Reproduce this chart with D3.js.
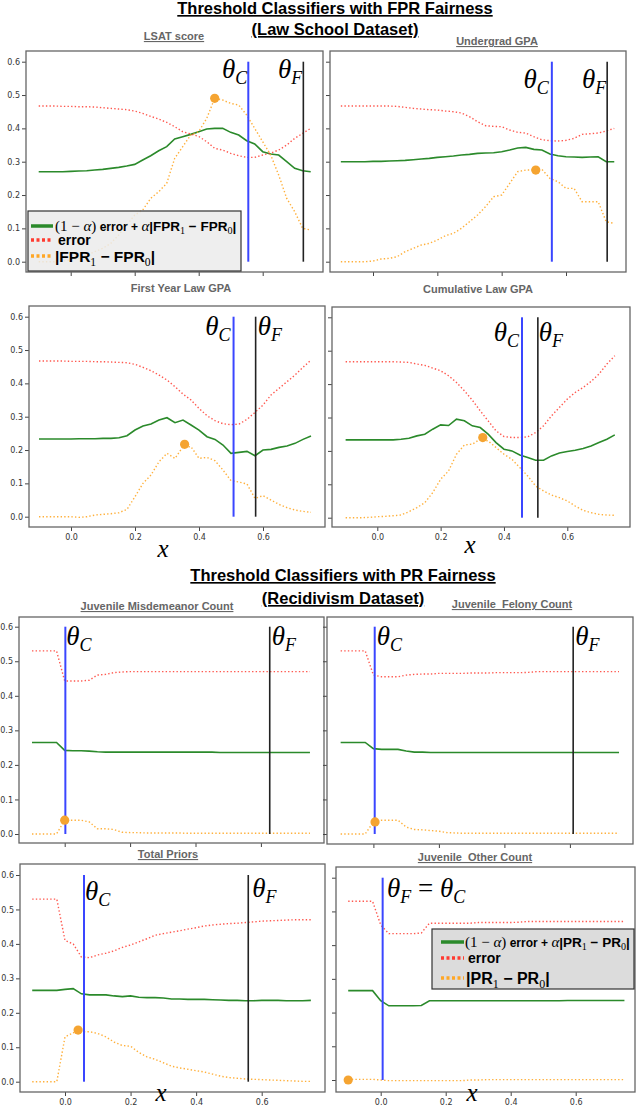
<!DOCTYPE html>
<html>
<head>
<meta charset="utf-8">
<script src="https://cdn.jsdelivr.net/npm/d3@7"></script>
<style>
  html, body { margin: 0; padding: 0; background: #fff; }
  svg { display: block; }
  text { white-space: pre; }
  .tick text { font-family: "DejaVu Sans", sans-serif; font-size: 8px; fill: #333; }
  .tick line { stroke: #444; }
</style>
</head>
<body>
<svg id="chart" width="640" height="1109"></svg>
<script>
'use strict'

// threshold grid shared by every panel
const thresholds = [
  -0.1, -0.075, -0.05, -0.025, 0.0,
  0.025, 0.05, 0.075, 0.1, 0.125,
  0.15, 0.175, 0.2, 0.225, 0.25,
  0.275, 0.3, 0.325, 0.35, 0.375,
  0.4, 0.425, 0.45, 0.475, 0.5,
  0.525, 0.55, 0.575, 0.6, 0.625,
  0.65, 0.675, 0.7, 0.725, 0.75
]

const yTickValues = [0.0, 0.1, 0.2, 0.3, 0.4, 0.5, 0.6]
const xTickValues = [0.0, 0.2, 0.4, 0.6]

const panelTitles = [
  'LSAT score', 'Undergrad GPA', 'First Year Law GPA', 'Cumulative Law GPA',
  'Juvenile Misdemeanor Count', 'Juvenile  Felony Count', 'Total Priors', 'Juvenile  Other Count'
]

// --- Law school, FPR fairness ---
const lsatObjective = [
  0.270, 0.270, 0.270, 0.270, 0.271, 0.272, 0.273, 0.275, 0.277, 0.280,
  0.283, 0.287, 0.292, 0.305, 0.318, 0.333, 0.345, 0.368, 0.375, 0.382,
  0.390, 0.398, 0.400, 0.400, 0.388, 0.380, 0.363, 0.353, 0.330, 0.323,
  0.320, 0.300, 0.280, 0.273, 0.270
]
const lsatError = [
  0.467, 0.467, 0.467, 0.466, 0.466, 0.465, 0.465, 0.464, 0.462, 0.460,
  0.458, 0.456, 0.452, 0.445, 0.436, 0.428, 0.418, 0.405, 0.390, 0.383,
  0.376, 0.360, 0.340, 0.335, 0.325, 0.318, 0.313, 0.313, 0.320, 0.326,
  0.335, 0.350, 0.370, 0.385, 0.400
]
const lsatGap = [
  0.000, 0.000, 0.000, 0.002, 0.005, 0.010, 0.020, 0.030, 0.040, 0.055,
  0.080, 0.110, 0.140, 0.155, 0.190, 0.210, 0.235, 0.310, 0.345, 0.380,
  0.390, 0.430, 0.490, 0.485, 0.475, 0.470, 0.440, 0.400, 0.360, 0.320,
  0.260, 0.190, 0.150, 0.100, 0.095
]

const ugpaObjective = [
  0.300, 0.300, 0.300, 0.300, 0.301, 0.301, 0.302, 0.303, 0.304, 0.306,
  0.308, 0.310, 0.313, 0.315, 0.317, 0.320, 0.322, 0.325, 0.326, 0.327,
  0.330, 0.335, 0.341, 0.343, 0.337, 0.335, 0.323, 0.318, 0.315, 0.314,
  0.313, 0.314, 0.315, 0.300, 0.300
]
const ugpaError = [
  0.467, 0.467, 0.467, 0.467, 0.467, 0.467, 0.467, 0.466, 0.463, 0.460,
  0.458, 0.456, 0.455, 0.452, 0.450, 0.446, 0.435, 0.420, 0.408, 0.406,
  0.405, 0.395, 0.388, 0.386, 0.375, 0.366, 0.363, 0.362, 0.364, 0.370,
  0.382, 0.384, 0.386, 0.392, 0.400
]
const ugpaGap = [
  0.000, 0.000, 0.000, 0.000, 0.002, 0.008, 0.010, 0.015, 0.030, 0.040,
  0.050, 0.055, 0.065, 0.078, 0.085, 0.100, 0.120, 0.140, 0.165, 0.195,
  0.200, 0.235, 0.270, 0.275, 0.275, 0.277, 0.250, 0.240, 0.220, 0.220,
  0.180, 0.180, 0.180, 0.120, 0.115
]

const fyaObjective = [
  0.233, 0.233, 0.233, 0.233, 0.233, 0.234, 0.234, 0.234, 0.235, 0.235,
  0.237, 0.243, 0.260, 0.272, 0.278, 0.290, 0.297, 0.282, 0.290, 0.275,
  0.260, 0.240, 0.232, 0.215, 0.190, 0.193, 0.196, 0.183, 0.200, 0.202,
  0.208, 0.212, 0.220, 0.232, 0.242
]
const fyaError = [
  0.467, 0.467, 0.467, 0.467, 0.466, 0.466, 0.466, 0.465, 0.465, 0.464,
  0.463, 0.462, 0.457, 0.448, 0.438, 0.425, 0.410, 0.390, 0.368, 0.350,
  0.325, 0.303, 0.288, 0.279, 0.276, 0.278, 0.292, 0.313, 0.335, 0.365,
  0.385, 0.405, 0.425, 0.448, 0.470
]
const fyaGap = [
  0.000, 0.000, 0.000, 0.000, 0.000, -0.002, 0.000, 0.005, 0.007, 0.009,
  0.012, 0.022, 0.060, 0.100, 0.125, 0.165, 0.190, 0.175, 0.210, 0.210,
  0.175, 0.178, 0.168, 0.140, 0.108, 0.104, 0.098, 0.055, 0.063, 0.050,
  0.037, 0.027, 0.020, 0.016, 0.013
]

const cumObjective = [
  0.233, 0.233, 0.233, 0.233, 0.233, 0.233, 0.233, 0.235, 0.238, 0.245,
  0.250, 0.265, 0.278, 0.276, 0.295, 0.290, 0.275, 0.270, 0.250, 0.225,
  0.205, 0.200, 0.188, 0.180, 0.172, 0.172, 0.185, 0.194, 0.198, 0.202,
  0.207, 0.215, 0.225, 0.235, 0.248
]
const cumError = [
  0.467, 0.467, 0.467, 0.467, 0.467, 0.467, 0.467, 0.466, 0.465, 0.460,
  0.456, 0.448, 0.440, 0.425, 0.405, 0.380, 0.352, 0.320, 0.290, 0.260,
  0.243, 0.240, 0.240, 0.242, 0.255, 0.275, 0.305, 0.330, 0.355, 0.375,
  0.390, 0.408, 0.430, 0.460, 0.485
]
const cumGap = [
  0.000, 0.000, 0.000, 0.001, 0.003, 0.004, 0.006, 0.008, 0.018, 0.030,
  0.045, 0.075, 0.115, 0.140, 0.190, 0.218, 0.220, 0.235, 0.230, 0.210,
  0.190, 0.175, 0.150, 0.125, 0.095, 0.080, 0.068, 0.060, 0.050, 0.035,
  0.022, 0.015, 0.010, 0.008, 0.007
]

// --- Recidivism, PR fairness ---
const misdObjective = [
  0.265, 0.265, 0.265, 0.265, 0.242, 0.241, 0.241, 0.240, 0.238, 0.237,
  0.237, 0.237, 0.237, 0.237, 0.237, 0.237, 0.237, 0.237, 0.237, 0.237,
  0.237, 0.237, 0.237, 0.236, 0.236, 0.236, 0.236, 0.236, 0.236, 0.236,
  0.236, 0.236, 0.236, 0.236, 0.236
]
const misdError = [
  0.530, 0.530, 0.530, 0.530, 0.443, 0.443, 0.443, 0.445, 0.460, 0.462,
  0.467, 0.469, 0.470, 0.470, 0.470, 0.470, 0.470, 0.470, 0.470, 0.470,
  0.470, 0.470, 0.470, 0.470, 0.470, 0.470, 0.470, 0.470, 0.470, 0.470,
  0.470, 0.470, 0.470, 0.470, 0.470
]
const misdGap = [
  0.000, 0.000, 0.000, 0.000, 0.040, 0.040, 0.040, 0.035, 0.015, 0.015,
  0.013, 0.005, 0.004, 0.004, 0.003, 0.003, 0.003, 0.003, 0.003, 0.002,
  0.002, 0.002, 0.002, 0.002, 0.002, 0.002, 0.002, 0.002, 0.002, 0.002,
  0.002, 0.002, 0.002, 0.002, 0.002
]

const felonyObjective = [
  0.265, 0.265, 0.265, 0.265, 0.247, 0.245, 0.245, 0.245, 0.240, 0.237,
  0.237, 0.236, 0.236, 0.236, 0.236, 0.236, 0.236, 0.236, 0.236, 0.236,
  0.236, 0.236, 0.236, 0.236, 0.236, 0.236, 0.236, 0.236, 0.236, 0.236,
  0.236, 0.236, 0.236, 0.236, 0.236
]
const felonyError = [
  0.530, 0.530, 0.530, 0.530, 0.460, 0.455, 0.455, 0.455, 0.460, 0.462,
  0.463, 0.463, 0.465, 0.465, 0.465, 0.465, 0.466, 0.466, 0.466, 0.467,
  0.467, 0.467, 0.467, 0.468, 0.470, 0.470, 0.470, 0.470, 0.470, 0.470,
  0.470, 0.470, 0.470, 0.470, 0.470
]
const felonyGap = [
  0.000, 0.000, 0.000, 0.000, 0.035, 0.040, 0.040, 0.040, 0.020, 0.013,
  0.012, 0.010, 0.008, 0.004, 0.003, 0.002, 0.002, 0.002, 0.002, 0.002,
  0.002, 0.002, 0.002, 0.002, 0.002, 0.002, 0.002, 0.002, 0.002, 0.002,
  0.002, 0.002, 0.002, 0.002, 0.002
]

const priorsObjective = [
  0.265, 0.265, 0.265, 0.265, 0.268, 0.270, 0.255, 0.252, 0.252, 0.252,
  0.249, 0.247, 0.249, 0.245, 0.244, 0.244, 0.243, 0.240, 0.240, 0.239,
  0.239, 0.239, 0.238, 0.237, 0.236, 0.236, 0.235, 0.235, 0.236, 0.236,
  0.236, 0.235, 0.235, 0.235, 0.236
]
const priorsError = [
  0.530, 0.530, 0.530, 0.530, 0.410, 0.400, 0.362, 0.360, 0.368, 0.373,
  0.380, 0.390, 0.397, 0.406, 0.415, 0.425, 0.430, 0.434, 0.438, 0.443,
  0.447, 0.452, 0.455, 0.457, 0.459, 0.460, 0.462, 0.464, 0.466, 0.467,
  0.468, 0.469, 0.470, 0.470, 0.470
]
const priorsGap = [
  0.000, 0.000, 0.000, 0.000, 0.130, 0.142, 0.145, 0.145, 0.140, 0.130,
  0.115, 0.105, 0.103, 0.085, 0.072, 0.065, 0.055, 0.045, 0.040, 0.036,
  0.032, 0.028, 0.022, 0.016, 0.012, 0.010, 0.008, 0.007, 0.006, 0.005,
  0.004, 0.003, 0.002, 0.001, 0.001
]

const otherObjective = [
  0.265, 0.265, 0.265, 0.265, 0.235, 0.220, 0.220, 0.220, 0.220, 0.221,
  0.235, 0.235, 0.235, 0.235, 0.235, 0.235, 0.235, 0.235, 0.235, 0.235,
  0.235, 0.235, 0.235, 0.235, 0.235, 0.235, 0.235, 0.236, 0.236, 0.236,
  0.236, 0.236, 0.236, 0.236, 0.236
]
const otherError = [
  0.530, 0.530, 0.530, 0.530, 0.460, 0.434, 0.434, 0.434, 0.434, 0.436,
  0.465, 0.465, 0.465, 0.465, 0.465, 0.465, 0.467, 0.467, 0.467, 0.467,
  0.467, 0.468, 0.470, 0.470, 0.470, 0.470, 0.470, 0.470, 0.470, 0.470,
  0.470, 0.470, 0.470, 0.470, 0.470
]
const otherGap = [
  0.002, 0.002, 0.002, 0.002, 0.000, -0.002, -0.002, -0.002, -0.002, -0.002,
  -0.002, -0.002, -0.002, -0.002, -0.002, 0.000, 0.000, 0.001, 0.001, 0.001,
  0.001, 0.001, 0.001, 0.001, 0.001, 0.001, 0.001, 0.001, 0.001, 0.001,
  0.001, 0.001, 0.001, 0.001, 0.001
]

// marked optimum of the gap curve, and the two chosen thresholds
const optimumX = [0.45, 0.506, 0.355, 0.333, 0.0, 0.005, 0.04, -0.1]
const optimumY = [0.49, 0.275, 0.217, 0.24, 0.04, 0.035, 0.15, 0.0]
const thetaC = [0.555, 0.556, 0.508, 0.457, 0.002, 0.004, 0.058, 0.006]
const thetaF = [0.727, 0.728, 0.577, 0.507, 0.627, 0.61, 0.559, 0.006]

const series = [
  [lsatObjective, lsatError, lsatGap],
  [ugpaObjective, ugpaError, ugpaGap],
  [fyaObjective, fyaError, fyaGap],
  [cumObjective, cumError, cumGap],
  [misdObjective, misdError, misdGap],
  [felonyObjective, felonyError, felonyGap],
  [priorsObjective, priorsError, priorsGap],
  [otherObjective, otherError, otherGap]
]

// pixel layout of each subplot (frame, where x=0/0.6 and y=0/0.6 fall, label spots)
const layout = [
  { frame: [26, 323, 51, 272], xr: [70.7, 262.7], yr: [261.7, 61.7], title: [174, 40], ul: true,
    yLab: true, xLab: false, tc: ['end', -1, 78], tf: ['end', -1, 78] },
  { frame: [330, 626, 51, 272], xr: [373, 566], yr: [261.7, 61.7], title: [497, 45], ul: true,
    yLab: false, xLab: false, tc: ['end', -3, 88], tf: ['end', -1, 88] },
  { frame: [29, 325, 306, 527], xr: [71, 263], yr: [516.7, 316.7], title: [181, 292], ul: false,
    yLab: true, xLab: true, tc: ['end', -3, 335], tf: ['start', 2, 335], xName: [163, 557] },
  { frame: [332, 630, 307, 527], xr: [377.3, 567.3], yr: [517.7, 317.3], title: [478, 293], ul: false,
    yLab: false, xLab: true, tc: ['end', -3, 341], tf: ['start', 1, 341], xName: [470, 553] },
  { frame: [19, 324, 617, 843], xr: [64.7, 260.9], yr: [834, 626.7], title: [157, 610], ul: true,
    yLab: true, xLab: false, tc: ['start', 1, 645], tf: ['start', 2, 645] },
  { frame: [327, 633, 617, 844], xr: [373.4, 569.9], yr: [834, 626.7], title: [512, 608], ul: true,
    yLab: false, xLab: false, tc: ['start', 2, 645], tf: ['start', 2, 645] },
  { frame: [20, 325, 864, 1092], xr: [65, 261.7], yr: [1081.7, 875], title: [168, 858], ul: true,
    yLab: true, xLab: true, tc: ['start', 1, 900], tf: ['start', 4, 897], xName: [161, 1101] },
  { frame: [336, 635, 867, 1092], xr: [380.7, 575.7], yr: [1080, 877.7], title: [475, 861], ul: true,
    yLab: false, xLab: true, tc: null, tf: null, joint: [387, 897], xName: [472, 1101] }
]

const SERIF = '"Liberation Serif", "DejaVu Serif", serif'
const SANS = '"Liberation Sans", Arial, sans-serif'
const GREEN = '#2b8a2b', RED = '#ff3b30', ORANGE = '#ffa726', BLUE = '#3a46ff'

const svg = d3.select('#chart')

function tspan(text, str, family, size, opts = {}) {
  const t = text.append('tspan').text(str)
    .attr('font-family', family).attr('font-size', size)
    .attr('font-style', opts.italic ? 'italic' : 'normal')
    .attr('font-weight', opts.bold ? 'bold' : 'normal')
  if (opts.dy) t.attr('dy', opts.dy)
  return t
}

function theta(g, x, y, anchor, sub) {
  const t = g.append('text').attr('x', x).attr('y', y).attr('text-anchor', anchor).attr('fill', '#000')
  tspan(t, 'θ', SERIF, 27, { italic: true })
  tspan(t, sub, SERIF, 18, { italic: true, dy: 6 })
  return t
}

function drawLegend(x0, y0, w, h, fill, rows, sample, textX, metric, fs) {
  const g = svg.append('g')
  g.append('rect').attr('x', x0).attr('y', y0).attr('width', w).attr('height', h)
    .attr('fill', fill).attr('fill-opacity', 0.85).attr('stroke', '#333').attr('stroke-width', 1.2)

  const styles = [
    { c: GREEN, dash: null },
    { c: RED, dash: '3,2.5' },
    { c: ORANGE, dash: '3,2.5' }
  ]
  rows.forEach((ry, i) => {
    g.append('line').attr('x1', sample[0]).attr('x2', sample[1]).attr('y1', ry).attr('y2', ry)
      .attr('stroke', styles[i].c).attr('stroke-width', 3.5)
      .attr('stroke-dasharray', styles[i].dash)
  })

  // (1 - a) error + a |M1 - M0|
  const t1 = g.append('text').attr('x', textX[0]).attr('y', rows[0] + 4.5).attr('fill', '#000')
  tspan(t1, '(1 − ', SERIF, fs[0])
  tspan(t1, 'α', SERIF, fs[0], { italic: true })
  tspan(t1, ')', SERIF, fs[0])
  tspan(t1, ' error + ', SANS, fs[1], { bold: true })
  tspan(t1, 'α', SERIF, fs[0], { italic: true })
  tspan(t1, '|' + metric, SANS, fs[2], { bold: true })
  tspan(t1, '1', SERIF, fs[2] * 0.75, { dy: 3 })
  tspan(t1, ' − ' + metric, SANS, fs[2], { bold: true, dy: -3 })
  tspan(t1, '0', SERIF, fs[2] * 0.75, { dy: 3 })
  tspan(t1, '|', SANS, fs[2], { bold: true, dy: -3 })

  const t2 = g.append('text').attr('x', textX[1]).attr('y', rows[1] + 5).attr('fill', '#000')
  tspan(t2, 'error', SANS, fs[3], { bold: true })

  const t3 = g.append('text').attr('x', textX[2]).attr('y', rows[2] + 5.5).attr('fill', '#000')
  tspan(t3, '|' + metric, SANS, fs[4], { bold: true })
  tspan(t3, '1', SERIF, fs[4] * 0.75, { dy: 4 })
  tspan(t3, ' − ' + metric, SANS, fs[4], { bold: true, dy: -4 })
  tspan(t3, '0', SERIF, fs[4] * 0.75, { dy: 4 })
  tspan(t3, '|', SANS, fs[4], { bold: true, dy: -4 })
}

// main titles
function mainTitle(lines, cx, ys) {
  lines.forEach((s, i) => {
    svg.append('text').attr('x', cx).attr('y', ys[i]).attr('text-anchor', 'middle')
      .attr('font-family', SANS).attr('font-weight', 'bold').attr('font-size', 16.5)
      .style('text-decoration', 'underline').attr('fill', '#000').text(s)
  })
}
mainTitle(['Threshold Classifiers with FPR Fairness', '(Law School Dataset)'], 335, [14, 35])
mainTitle(['Threshold Classifiers with PR Fairness', '(Recidivism Dataset)'], 343, [581, 604])

series.forEach((s, k) => {
  const L = layout[k]
  const [fx0, fx1, fy0, fy1] = L.frame
  const x = d3.scaleLinear().domain([0, 0.6]).range(L.xr)
  const y = d3.scaleLinear().domain([0, 0.6]).range(L.yr)
  const g = svg.append('g')

  // axes (ticks only, frame drawn separately)
  g.append('g').attr('transform', `translate(${fx0},0)`)
    .call(d3.axisLeft(y).tickValues(yTickValues).tickSize(4).tickPadding(2)
      .tickFormat(L.yLab ? d3.format('.1f') : ''))
    .call(a => a.select('.domain').remove())
  g.append('g').attr('transform', `translate(0,${fy1})`)
    .call(d3.axisBottom(x).tickValues(xTickValues).tickSize(4).tickPadding(3)
      .tickFormat(L.xLab ? d3.format('.1f') : ''))
    .call(a => a.select('.domain').remove())

  g.append('rect').attr('x', fx0).attr('y', fy0).attr('width', fx1 - fx0).attr('height', fy1 - fy0)
    .attr('fill', 'none').attr('stroke', '#666').attr('stroke-width', 1.3)

  const line = d3.line().x((d, i) => x(thresholds[i])).y(d => y(d))

  g.append('path').datum(s[0]).attr('d', line).attr('fill', 'none')
    .attr('stroke', GREEN).attr('stroke-width', 1.6)
  g.append('path').datum(s[1]).attr('d', line).attr('fill', 'none')
    .attr('stroke', RED).attr('stroke-width', 1.4).attr('stroke-dasharray', '1.4,2.2').attr('stroke-opacity', 0.85)
  g.append('path').datum(s[2]).attr('d', line).attr('fill', 'none')
    .attr('stroke', ORANGE).attr('stroke-width', 1.4).attr('stroke-dasharray', '1.4,2.2').attr('stroke-opacity', 0.9)

  // chosen thresholds
  if (thetaF[k] !== thetaC[k]) {
    g.append('line').attr('x1', x(thetaF[k])).attr('x2', x(thetaF[k])).attr('y1', y(0)).attr('y2', y(0.6))
      .attr('stroke', '#222').attr('stroke-width', 1.6)
  }
  g.append('line').attr('x1', x(thetaC[k])).attr('x2', x(thetaC[k])).attr('y1', y(0)).attr('y2', y(0.6))
    .attr('stroke', BLUE).attr('stroke-width', 2)

  g.append('circle').attr('cx', x(optimumX[k])).attr('cy', y(optimumY[k])).attr('r', 4.6)
    .attr('fill', '#f5a431')

  if (L.tc) {
    theta(g, x(thetaC[k]) + L.tc[1], L.tc[2], L.tc[0], 'C')
    theta(g, x(thetaF[k]) + L.tf[1], L.tf[2], L.tf[0], 'F')
  } else {
    const t = g.append('text').attr('x', L.joint[0]).attr('y', L.joint[1]).attr('fill', '#000')
    tspan(t, 'θ', SERIF, 27, { italic: true })
    tspan(t, 'F', SERIF, 18, { italic: true, dy: 6 })
    tspan(t, ' = ', SERIF, 27, { dy: -6 })
    tspan(t, 'θ', SERIF, 27, { italic: true })
    tspan(t, 'C', SERIF, 18, { italic: true, dy: 6 })
  }

  // subplot title
  g.append('text').attr('x', L.title[0]).attr('y', L.title[1]).attr('text-anchor', 'middle')
    .attr('font-family', SANS).attr('font-weight', 'bold').attr('font-size', 11)
    .attr('fill', '#666').style('text-decoration', L.ul ? 'underline' : 'none').text(panelTitles[k])

  if (L.xName) {
    g.append('text').attr('x', L.xName[0]).attr('y', L.xName[1]).attr('text-anchor', 'middle')
      .attr('font-family', SERIF).attr('font-style', 'italic').attr('font-size', 25)
      .attr('fill', '#000').text('x')
  }
})

drawLegend(28, 211, 213, 60, '#ebebeb', [226, 240, 256], [31, 53], [55, 58, 55], 'FPR', [15, 12, 13.5, 14, 15.5])
drawLegend(432, 929, 202, 60, '#d6d6d6', [942, 958, 978], [441, 464], [465, 468, 466], 'PR', [15, 12, 13.5, 14, 16])
</script>
</body>
</html>
